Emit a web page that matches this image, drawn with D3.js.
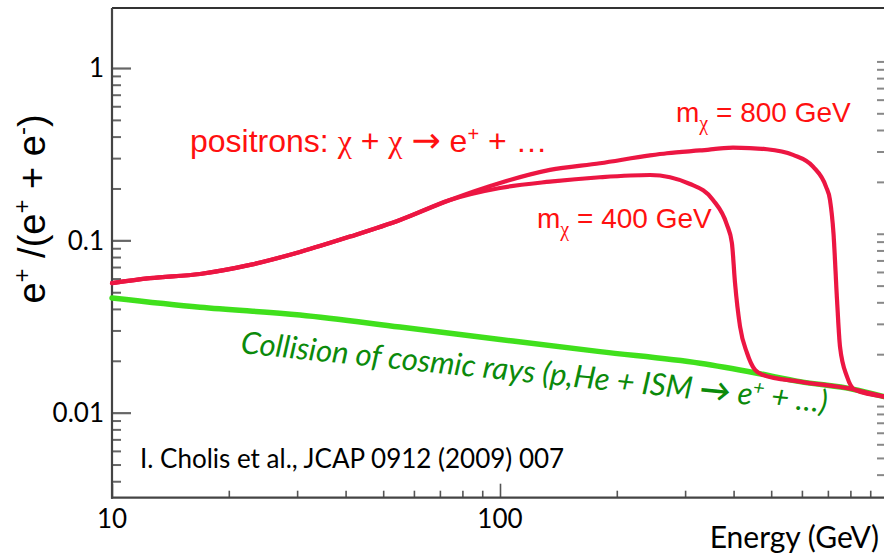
<!DOCTYPE html>
<html>
<head>
<meta charset="utf-8">
<script src="https://cdn.jsdelivr.net/npm/d3@7"></script>
<style>
  html, body { margin: 0; padding: 0; background: #fff; }
  svg { display: block; }
</style>
</head>
<body>
<svg id="chart" width="884" height="556"></svg>
<script>
// Positron fraction e+/(e+ + e-) versus energy (GeV), log-log.

// Secondary positrons from cosmic-ray collisions with the ISM
const backgroundEnergy = [10, 16.86, 30.51, 55.25, 100, 181.0, 327.7, 459.6, 593.2, 812.5, 976.6];
const backgroundRatio  = [0.0463, 0.0409, 0.0369, 0.0314, 0.0266, 0.0226, 0.01935, 0.01694, 0.01514, 0.01368, 0.01239];

// Dark matter annihilation signal + background, m_chi = 400 GeV
const m400Energy = [10, 12.53, 16.86, 22.69, 30.51, 41.06, 55.25, 74.31, 100, 134.5, 181.0, 243.6, 308.9,
                    354, 384.6, 396, 403.4, 415.6, 433.2, 454.3, 476.3, 593.2, 812.5, 976.6];
const m400Ratio  = [0.0564, 0.0603, 0.0638, 0.0720, 0.0856, 0.1051, 0.1313, 0.1715, 0.2014, 0.2191, 0.2323, 0.2395, 0.2124,
                    0.1716, 0.1229, 0.0966, 0.0566, 0.0316, 0.0222, 0.0177, 0.01656, 0.01514, 0.01368, 0.01239];

// Dark matter annihilation signal + background, m_chi = 800 GeV
const m800Energy = [10, 12.53, 16.86, 22.69, 30.51, 41.06, 55.25, 74.31, 100, 134.5, 181.0, 243.6, 269.4, 327.7,
                    398.6, 487.7, 569.2, 640.9, 692.1, 708.8, 723.6, 739, 752.2, 784.1, 822.1, 976.6];
const m800Ratio  = [0.0564, 0.0603, 0.0638, 0.0720, 0.0856, 0.1051, 0.1313, 0.1715, 0.2153, 0.2562, 0.2802, 0.311, 0.3201, 0.3324,
                    0.3450, 0.3377, 0.3131, 0.2677, 0.2049, 0.1715, 0.1100, 0.0451, 0.02416, 0.01619, 0.01355, 0.01239];

// Axis tick labels
const xTickLabels = [10, 100];
const yTickLabels = [1, 0.1, 0.01];
const xMinorTicks = [20, 30, 40, 50, 60, 70, 80, 90, 200, 300, 400, 500, 600, 700, 800, 900];
const yMinorTicks = [0.004, 0.005, 0.006, 0.007, 0.008, 0.009,
                     0.02, 0.03, 0.04, 0.05, 0.06, 0.07, 0.08, 0.09,
                     0.2, 0.3, 0.4, 0.5, 0.6, 0.7, 0.8, 0.9];

const svg = d3.select("#chart");
const plotLeft = 112, plotRight = 884, plotTop = 8, plotBottom = 497.7;

const x = d3.scaleLog().domain([10, 976.6]).range([plotLeft, plotRight]);
const y = d3.scaleLog().domain([0.00321, 2.23]).range([plotBottom, plotTop]);

const toPoints = (es, vs) => es.map((e, i) => [e, vs[i]]);
const line = d3.line()
  .x(d => x(d[0]))
  .y(d => y(d[1]))
  .curve(d3.curveMonotoneX);

const defs = svg.append("defs");
defs.append("filter").attr("id", "soft")
  .append("feGaussianBlur").attr("stdDeviation", 0.45);

// Frame: top border
const frame = svg.append("g");
frame.append("line").attr("x1", plotLeft).attr("x2", plotRight).attr("y1", plotTop).attr("y2", plotTop)
  .attr("stroke", "#333").attr("stroke-width", 2);

// Left ticks (pointing inward)
const gl = svg.append("g").attr("transform", `translate(${plotLeft},0)`)
  .call(d3.axisRight(y).tickValues(yTickLabels).tickSize(19).tickFormat(""));
gl.select(".domain").remove();
gl.selectAll(".tick line").attr("stroke", "#666").attr("stroke-width", 2.2);
const glm = svg.append("g").attr("transform", `translate(${plotLeft},0)`)
  .call(d3.axisRight(y).tickValues(yMinorTicks).tickSize(9).tickFormat(""));
glm.select(".domain").remove();
glm.selectAll(".tick line").attr("stroke", "#666").attr("stroke-width", 2);

// Right ticks (pointing inward, cut by the edge)
const gr = svg.append("g").attr("transform", `translate(${plotRight},-6.6)`)
  .call(d3.axisLeft(y).tickValues(yMinorTicks.concat(yTickLabels)).tickSize(7).tickFormat(""));
gr.select(".domain").remove();
gr.selectAll(".tick line").attr("stroke", "#888").attr("stroke-width", 2);

// Bottom ticks (pointing up)
const gb = svg.append("g").attr("transform", `translate(0,${plotBottom})`)
  .call(d3.axisTop(x).tickValues(xMinorTicks).tickSize(7).tickFormat(""));
gb.select(".domain").remove();
gb.selectAll(".tick line").attr("stroke", "#555").attr("stroke-width", 1.6);
const gbM = svg.append("g").attr("transform", `translate(0,${plotBottom})`)
  .call(d3.axisTop(x).tickValues(xTickLabels).tickSize(14).tickFormat(""));
gbM.select(".domain").remove();
gbM.selectAll(".tick line").attr("stroke", "#555").attr("stroke-width", 1.6);

frame.append("line").attr("x1", plotLeft).attr("x2", plotLeft).attr("y1", plotTop).attr("y2", plotBottom + 1)
  .attr("stroke", "#444").attr("stroke-width", 2.2);
frame.append("line").attr("x1", plotLeft - 1).attr("x2", plotRight).attr("y1", plotBottom).attr("y2", plotBottom)
  .attr("stroke", "#444").attr("stroke-width", 2.2);
frame.raise();

// Tick labels
const labelFont = "Lato, 'Open Sans', sans-serif";
svg.append("g").selectAll("text").data(yTickLabels).join("text")
  .attr("x", 104).attr("y", d => y(d))
  .attr("dy", "0.36em")
  .attr("text-anchor", "end")
  .attr("font-family", labelFont).attr("font-size", 26).attr("fill", "#000")
  .text(d => String(d));
svg.append("g").selectAll("text").data(xTickLabels).join("text")
  .attr("x", d => x(d)).attr("y", 528)
  .attr("text-anchor", "middle")
  .attr("font-family", labelFont).attr("font-size", 26).attr("fill", "#000")
  .text(d => String(d));

// Curves
const curves = svg.append("g").attr("filter", "url(#soft)");
curves.append("path").datum(toPoints(backgroundEnergy, backgroundRatio))
  .attr("d", line).attr("fill", "none").attr("stroke", "#3fe01f").attr("stroke-width", 5.5)
  .attr("stroke-linecap", "round");
curves.append("path").datum(toPoints(m400Energy, m400Ratio))
  .attr("d", line).attr("fill", "none").attr("stroke", "#ec1443").attr("stroke-width", 4.2)
  .attr("stroke-linejoin", "round").attr("stroke-linecap", "round");
curves.append("path").datum(toPoints(m800Energy, m800Ratio))
  .attr("d", line).attr("fill", "none").attr("stroke", "#ec1443").attr("stroke-width", 4.2)
  .attr("stroke-linejoin", "round").attr("stroke-linecap", "round");

// Y-axis title
const yTitle = svg.append("text")
  .attr("transform", "translate(45,209) rotate(-90)")
  .attr("text-anchor", "middle")
  .attr("font-family", "'Liberation Sans', Arial, sans-serif")
  .attr("font-size", 38).attr("fill", "#000");
yTitle.append("tspan").text("e");
yTitle.append("tspan").attr("dy", -15).attr("font-size", 24).text("+");
yTitle.append("tspan").attr("dy", 15).text(" /(e");
yTitle.append("tspan").attr("dy", -15).attr("font-size", 24).text("+");
yTitle.append("tspan").attr("dy", 15).text(" + e");
yTitle.append("tspan").attr("dy", -15).attr("font-size", 24).text("-");
yTitle.append("tspan").attr("dy", 15).text(")");

// X-axis title
svg.append("text").attr("x", 879).attr("y", 548).attr("text-anchor", "end")
  .attr("font-family", labelFont).attr("font-size", 30).attr("fill", "#000")
  .text("Energy (GeV)");

// Annotations
const sans = "'Liberation Sans', Arial, sans-serif";
const serif = "'Liberation Serif', 'DejaVu Serif', serif";
const pos = svg.append("text").attr("x", 190).attr("y", 152)
  .attr("font-family", sans).attr("font-size", 32).attr("fill", "#ff1010");
pos.append("tspan").text("positrons: ");
pos.append("tspan").attr("font-family", serif).text("\u03c7");
pos.append("tspan").text(" + ");
pos.append("tspan").attr("font-family", serif).text("\u03c7");
pos.append("tspan").text(" ");
pos.append("tspan").attr("font-family", "'DejaVu Sans', sans-serif").attr("font-size", 35).text("\u2192");
pos.append("tspan").text(" e");
pos.append("tspan").attr("dy", -11).attr("font-size", 20).text("+");
pos.append("tspan").attr("dy", 11).text(" + \u2026");

function massLabel(xPos, yPos, mass) {
  const t = svg.append("text").attr("x", xPos).attr("y", yPos)
    .attr("font-family", sans).attr("font-size", 28).attr("fill", "#ff1010");
  t.append("tspan").text("m");
  t.append("tspan").attr("dy", 8).attr("font-size", 20).attr("font-family", serif).text("\u03c7");
  t.append("tspan").attr("dy", -8).text(` = ${mass} GeV`);
}
massLabel(676, 122, 800);
massLabel(537, 228, 400);

// Background annotation, laid along the line
const bg = svg.append("text")
  .attr("transform", "translate(240,353) rotate(5.8)")
  .attr("font-family", labelFont).attr("font-style", "italic")
  .attr("font-size", 31).attr("fill", "#0b8a0b");
bg.append("tspan").text("Collision of cosmic rays (p,He + ISM ");
bg.append("tspan").attr("font-style", "normal").attr("font-weight", "bold").text("\u2192");
bg.append("tspan").text(" e");
bg.append("tspan").attr("dy", -11).attr("font-size", 20).text("+");
bg.append("tspan").attr("dy", 11).text(" + \u2026)");

// Reference
svg.append("text").attr("x", 140).attr("y", 468)
  .attr("font-family", labelFont).attr("font-size", 26).attr("fill", "#000")
  .text("I. Cholis et al., JCAP 0912 (2009) 007");
</script>
</body>
</html>
